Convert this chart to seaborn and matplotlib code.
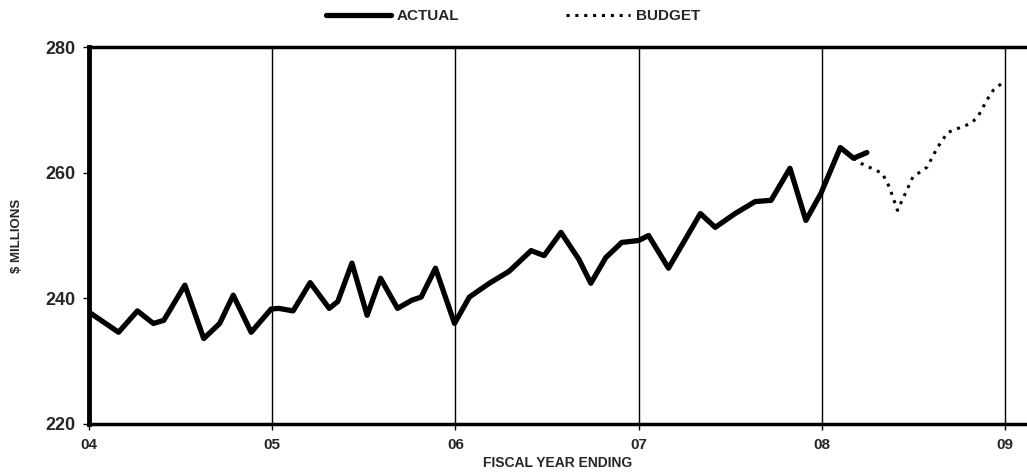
import matplotlib
matplotlib.use("Agg")
import matplotlib.pyplot as plt
import seaborn as sns
import pandas as pd
from matplotlib.lines import Line2D

# Monthly revenue, fiscal years 04-09 ($ millions)
actual_x = [4.000, 4.161, 4.264, 4.351, 4.408, 4.523, 4.626, 4.713, 4.787, 4.885, 4.994,
            5.036, 5.114, 5.207, 5.311, 5.358, 5.435, 5.518, 5.591, 5.684, 5.762, 5.813,
            5.891, 5.995, 6.076, 6.185, 6.293, 6.413, 6.484, 6.576, 6.674, 6.739, 6.821,
            6.908, 7.000, 7.054, 7.163, 7.337, 7.418, 7.527, 7.636, 7.723, 7.826, 7.913,
            7.995, 8.101, 8.173, 8.246]
actual_y = [237.8, 234.6, 238.0, 236.0, 236.5, 242.1, 233.6, 236.0, 240.5, 234.6, 238.3,
            238.4, 238.0, 242.5, 238.4, 239.5, 245.6, 237.3, 243.2, 238.4, 239.7, 240.2,
            244.8, 236.0, 240.2, 242.4, 244.3, 247.6, 246.8, 250.5, 246.2, 242.4, 246.5,
            248.9, 249.2, 250.0, 244.8, 253.5, 251.3, 253.5, 255.4, 255.6, 260.7, 252.4,
            256.7, 264.0, 262.3, 263.2]

budget_x = [8.173, 8.212, 8.330, 8.369, 8.413, 8.497, 8.575, 8.631, 8.687, 8.810,
            8.850, 8.900, 8.935, 8.990]
budget_y = [262.3, 261.5, 259.9, 257.7, 254.0, 259.3, 260.9, 264.0, 266.4, 267.8,
            268.8, 271.5, 273.1, 274.4]

year_ticks = [4, 5, 6, 7, 8, 9]
year_labels = ["04", "05", "06", "07", "08", "09"]
value_ticks = [220, 240, 260, 280]

sns.set_style("white")
plt.rcParams["font.family"] = ["Liberation Sans", "DejaVu Sans"]
plt.rcParams["font.weight"] = "bold"

fig = plt.figure(figsize=(10.27, 4.74), dpi=100)
ax = fig.add_axes([0.0867, 0.1055, 0.9133, 0.7953])

df_a = pd.DataFrame({"x": actual_x, "y": actual_y})
df_b = pd.DataFrame({"x": budget_x, "y": budget_y})

dot_style = (0, (1.0, 1.9))
sns.lineplot(data=df_b, x="x", y="y", ax=ax, color="black", lw=2.2,
             linestyle=dot_style, zorder=3)
sns.lineplot(data=df_a, x="x", y="y", ax=ax, color="black", lw=3.8,
             solid_joinstyle="round", solid_capstyle="round", zorder=4)

ax.set_xlim(4, 9.12)
ax.set_ylim(220, 280)
ax.set_xticks(year_ticks)
ax.set_xticklabels(year_labels)
ax.set_yticks(value_ticks)
for t in year_ticks[1:]:
    ax.axvline(t, color="black", lw=1.0, zorder=1)

ax.tick_params(axis="both", length=4, width=1, color="black",
               direction="out", bottom=True, left=True)
ax.tick_params(axis="x", labelsize=11, pad=6)
ax.tick_params(axis="y", labelsize=13, pad=6)
for lbl in ax.get_xticklabels() + ax.get_yticklabels():
    lbl.set_fontweight("bold")

ax.spines["left"].set_linewidth(3.5)
ax.spines["bottom"].set_linewidth(2.5)
ax.spines["top"].set_linewidth(2.5)
ax.spines["right"].set_visible(False)
for s in ("left", "bottom", "top"):
    ax.spines[s].set_color("black")

ax.set_xlabel("FISCAL YEAR ENDING", fontsize=10, fontweight="bold", labelpad=3)
ax.set_ylabel("$ MILLIONS", fontsize=9.5, fontweight="bold", labelpad=16)

handles = [Line2D([], [], color="black", lw=3.8, solid_capstyle="round"),
           Line2D([], [], color="black", lw=2.2, linestyle=dot_style)]
fig.legend(handles, ["ACTUAL", "BUDGET"], loc="upper center", bbox_to_anchor=(0.5, 1.01),
           ncol=2, frameon=False, handlelength=4.2, columnspacing=7,
           prop={"size": 11, "weight": "bold"}, handletextpad=0.4)

fig.savefig("out.png", dpi=100)
